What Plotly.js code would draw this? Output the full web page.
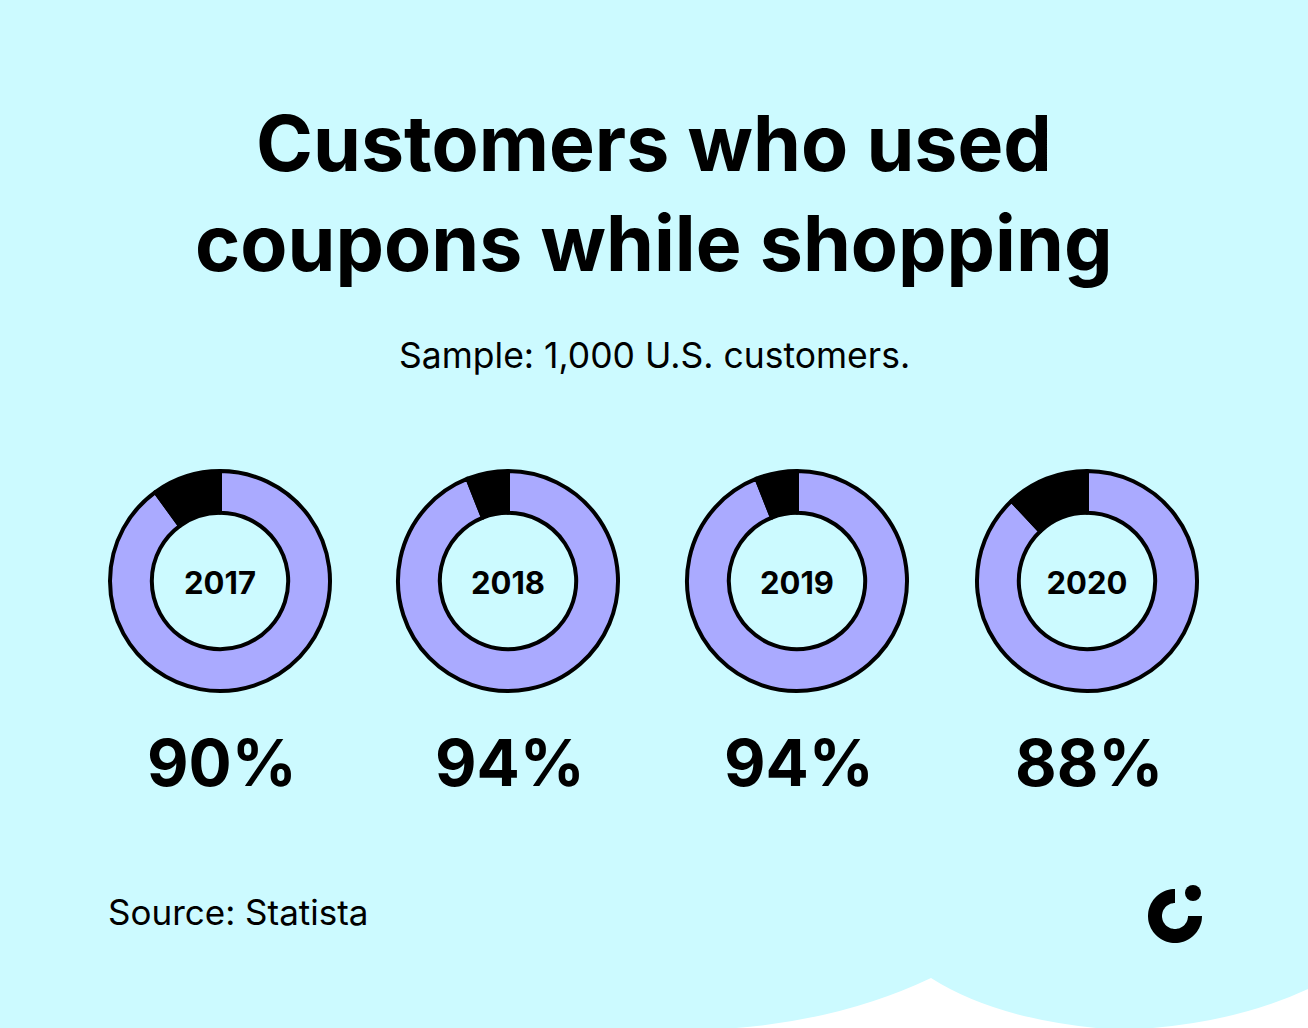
<!DOCTYPE html>
<html>
<head>
<meta charset="utf-8">
<script src="https://cdn.plot.ly/plotly-3.0.1.min.js"></script>
<style>
html,body{margin:0;padding:0;background:#CCFAFF;}
#chart{width:1308px;height:1028px;}
</style>
</head>
<body>
<div id="chart"></div>
<script>
// ---- data ----
const years = ['2017', '2018', '2019', '2020'];
const usedPct = [90, 94, 94, 88];
const titleLines = ['Customers who used', 'coupons while shopping'];
const subtitle = 'Sample: 1,000 U.S. customers.';
const source = 'Source: Statista';

// ---- style ----
const W = 1308, H = 1028;
const BG = '#CCFAFF';
const PURPLE = '#AAAAFF';
const INK = '#000000';
const centersX = [220, 508, 797, 1087];
const centerY = 581;
const R = 110;

const px = x => x / W;
const py = y => 1 - y / H;

const traces = years.map((yr, i) => ({
  type: 'pie',
  values: [usedPct[i], 100 - usedPct[i]],
  labels: ['Used coupons', 'Did not use'],
  sort: false,
  direction: 'clockwise',
  rotation: 0,
  hole: 0.62,
  textinfo: 'none',
  hoverinfo: 'label+percent',
  showlegend: false,
  marker: {colors: [PURPLE, INK], line: {color: INK, width: 4}},
  domain: {x: [px(centersX[i] - R), px(centersX[i] + R)], y: [py(centerY + R), py(centerY - R)]},
  title: {text: yr, position: 'middle center', font: {family: 'Inter', size: 31, weight: 700, color: INK}}
}));

const annotations = [];
titleLines.forEach((t, i) => annotations.push({
  xref: 'paper', yref: 'paper', x: 0.5, y: py(143 + i * 100),
  xanchor: 'center', yanchor: 'middle', showarrow: false,
  text: t, font: {family: 'Inter', size: 77, weight: 700, color: INK}
}));
annotations.push({
  xref: 'paper', yref: 'paper', x: 0.5, y: py(355),
  xanchor: 'center', yanchor: 'middle', showarrow: false,
  text: subtitle, font: {family: 'Inter', size: 35.5, color: INK}
});
years.forEach((yr, i) => annotations.push({
  xref: 'paper', yref: 'paper', x: px(centersX[i] + 2), y: py(762),
  xanchor: 'center', yanchor: 'middle', showarrow: false,
  text: usedPct[i] + '%', font: {family: 'Inter', size: 64, weight: 700, color: INK}
}));
annotations.push({
  xref: 'paper', yref: 'paper', x: px(106), y: py(912),
  xanchor: 'left', yanchor: 'middle', showarrow: false,
  text: source, font: {family: 'Inter', size: 35, color: INK}
});

// logo arc (C)
function arcPath(cx, cy, ro, ri, a0, a1, n) {
  let pts = [];
  for (let k = 0; k <= n; k++) {
    const a = a0 + (a1 - a0) * k / n;
    pts.push([cx + ro * Math.cos(a), cy - ro * Math.sin(a)]);
  }
  for (let k = n; k >= 0; k--) {
    const a = a0 + (a1 - a0) * k / n;
    pts.push([cx + ri * Math.cos(a), cy - ri * Math.sin(a)]);
  }
  return 'M ' + pts.map(p => p[0].toFixed(1) + ' ' + p[1].toFixed(1)).join(' L ') + ' Z';
}

const shapes = [
  {type: 'path', xref: 'x', yref: 'y', layer: 'below', fillcolor: '#FFFFFF', line: {width: 0},
   path: 'M 600 1030 L 700 1030 Q 830 1026 931 978 Q 1000 1022 1120 1030 Q 1230 1026 1310 988 L 1310 1030 Z'},
  {type: 'path', xref: 'x', yref: 'y', fillcolor: INK, line: {width: 0},
   path: arcPath(1175, 916, 27, 13, Math.PI / 2, 2 * Math.PI, 60)},
  {type: 'circle', xref: 'x', yref: 'y', fillcolor: INK, line: {width: 0},
   x0: 1185, x1: 1201, y0: 885, y1: 901}
];

const layout = {
  width: W, height: H,
  margin: {l: 0, r: 0, t: 0, b: 0},
  paper_bgcolor: BG, plot_bgcolor: BG,
  xaxis: {range: [0, W], visible: false, fixedrange: true},
  yaxis: {range: [H, 0], visible: false, fixedrange: true},
  annotations: annotations,
  shapes: shapes,
  showlegend: false
};

Plotly.newPlot('chart', traces, layout, {displayModeBar: false, staticPlot: true});
</script>
</body>
</html>
